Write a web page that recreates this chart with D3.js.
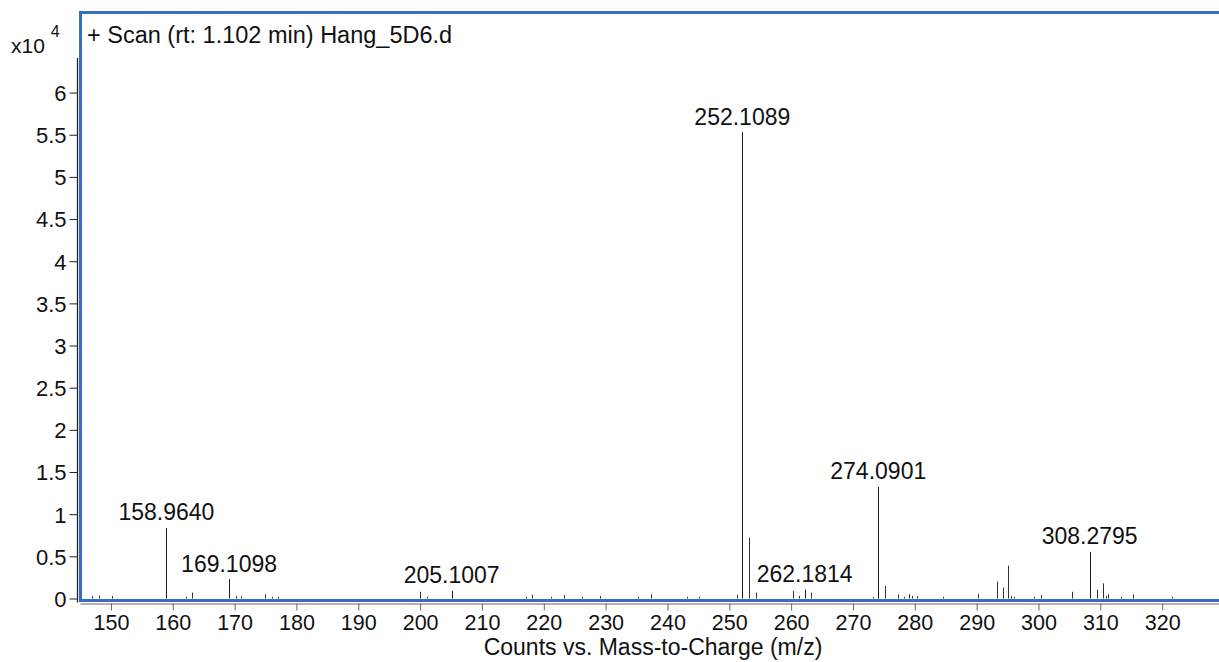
<!DOCTYPE html>
<html>
<head>
<meta charset="utf-8">
<script src="https://cdn.jsdelivr.net/npm/d3@7"></script>
<style>
  html, body { margin: 0; padding: 0; background: #fff; }
  svg { display: block; font-family: "Liberation Sans", Arial, sans-serif; }
</style>
</head>
<body>
<svg id="chart" width="1219" height="662"></svg>
<script>
// Mass spectrum: + Scan (rt: 1.102 min) Hang_5D6.d
// Intensities are in counts; the y axis is shown in units of 10^4.

// Annotated peaks
const labeledMz = [158.9640, 169.1098, 205.1007, 252.1089, 262.1814, 274.0901, 308.2795];
const labeledCounts = [8370, 2290, 900, 55300, 1050, 13230, 5530];

// Remaining centroid peaks
const minorMz = [
  146.97, 148.06, 150.10, 162.10, 163.05, 170.20, 171.10, 174.95, 176.10, 177.05,
  199.97, 201.15, 217.07, 218.05, 221.20, 223.25, 226.20, 229.10, 235.27, 237.30,
  243.10, 245.10, 251.30, 253.17, 254.25, 260.33, 261.25, 263.17, 273.27, 275.16,
  277.30, 278.20, 279.10, 279.50, 280.40, 284.50, 290.15, 293.30, 294.30, 295.10,
  295.50, 296.00, 299.26, 300.40, 305.35, 309.40, 310.36, 310.90, 311.30, 313.40,
  315.30, 321.60
];
const minorCounts = [
  300, 350, 300, 200, 700, 300, 250, 500, 200, 200,
  800, 200, 200, 450, 200, 400, 200, 300, 200, 500,
  200, 200, 450, 7190, 700, 900, 300, 700, 200, 1480,
  500, 200, 500, 300, 300, 200, 550, 2000, 1300, 3900,
  300, 200, 200, 400, 800, 1050, 1800, 300, 500, 200,
  500, 200
];

// Axis ticks
const xTicks = d3.range(150, 321, 10);
const yTicks = [0, 5000, 10000, 15000, 20000, 25000, 30000, 35000, 40000, 45000, 50000, 55000, 60000];
const yTickLabels = ["0", "0.5", "1", "1.5", "2", "2.5", "3", "3.5", "4", "4.5", "5", "5.5", "6"];

const titleText = "+ Scan (rt: 1.102 min) Hang_5D6.d";
const xAxisTitle = "Counts vs. Mass-to-Charge (m/z)";

const svg = d3.select("#chart");

const x = d3.scaleLinear().domain([145, 330]).range([80, 1224]);
const y = d3.scaleLinear().domain([0, 64100]).range([598.5, 58]);

const blue = "#3a6bc6";
const font = "'Liberation Sans', Arial, sans-serif";

// x axis (grey line below the frame)
const xAxis = svg.append("g").attr("transform", "translate(0,603.5)")
  .call(d3.axisBottom(x).tickValues(xTicks).tickSize(7).tickSizeOuter(0));
xAxis.select(".domain").attr("stroke", "#999").attr("stroke-width", 1.5);
xAxis.selectAll(".tick line").attr("stroke", "#666");
xAxis.selectAll(".tick text")
  .attr("font-family", font).attr("font-size", 21.5).attr("fill", "#111")
  .attr("y", 26).attr("dy", 0);

// y axis (black line left of the frame)
const yAxis = svg.append("g").attr("transform", "translate(77.5,0)")
  .call(d3.axisLeft(y).tickValues(yTicks).tickFormat((d, i) => yTickLabels[i]).tickSize(8).tickPadding(3).tickSizeOuter(0));
yAxis.select(".domain").attr("stroke", "#222").attr("stroke-width", 1.3)
  .attr("d", `M0,${y.range()[1]}V${y.range()[0] + 4}`);
yAxis.selectAll(".tick line").attr("stroke", "#222");
yAxis.selectAll(".tick text")
  .attr("font-family", font).attr("font-size", 22).attr("fill", "#111").attr("dy", "0.36em");

// exponent label
const expo = svg.append("text").attr("x", 11).attr("y", 53)
  .attr("font-family", font).attr("font-size", 21).attr("fill", "#111");
expo.append("tspan").text("x10 ");
expo.append("tspan").attr("font-size", 16).attr("dy", -16).text("4");

// peaks
const peaks = g => g.attr("stroke", "#1a1a1a").attr("stroke-width", 1)
  .attr("x1", d => Math.round(x(d.mz)) + 0.5).attr("x2", d => Math.round(x(d.mz)) + 0.5)
  .attr("y1", y(0)).attr("y2", d => y(d.c));

const minor = minorMz.map((m, i) => ({ mz: m, c: minorCounts[i] }));
const major = labeledMz.map((m, i) => ({ mz: m, c: labeledCounts[i] }));

svg.append("g").selectAll("line").data(minor).join("line").call(peaks).attr("stroke", "#333");
svg.append("g").selectAll("line").data(major).join("line").call(peaks);

// plot frame
svg.append("rect")
  .attr("x", 80.5).attr("y", 12.5).attr("width", 1150).attr("height", 588)
  .attr("fill", "none").attr("stroke", blue).attr("stroke-width", 3);

// peak annotations
svg.append("g").selectAll("text").data(major).join("text")
  .attr("x", d => x(d.mz)).attr("y", d => y(d.c) - 7.5)
  .attr("text-anchor", "middle")
  .attr("font-family", font).attr("font-size", 23).attr("fill", "#111")
  .text(d => d.mz.toFixed(4));

// title
svg.append("text").attr("x", 87).attr("y", 42.5)
  .attr("font-family", font).attr("font-size", 23.5).attr("fill", "#111")
  .text(titleText);

// x axis title
svg.append("text").attr("x", 653).attr("y", 655).attr("text-anchor", "middle")
  .attr("font-family", font).attr("font-size", 23).attr("fill", "#111")
  .text(xAxisTitle);
</script>
</body>
</html>
